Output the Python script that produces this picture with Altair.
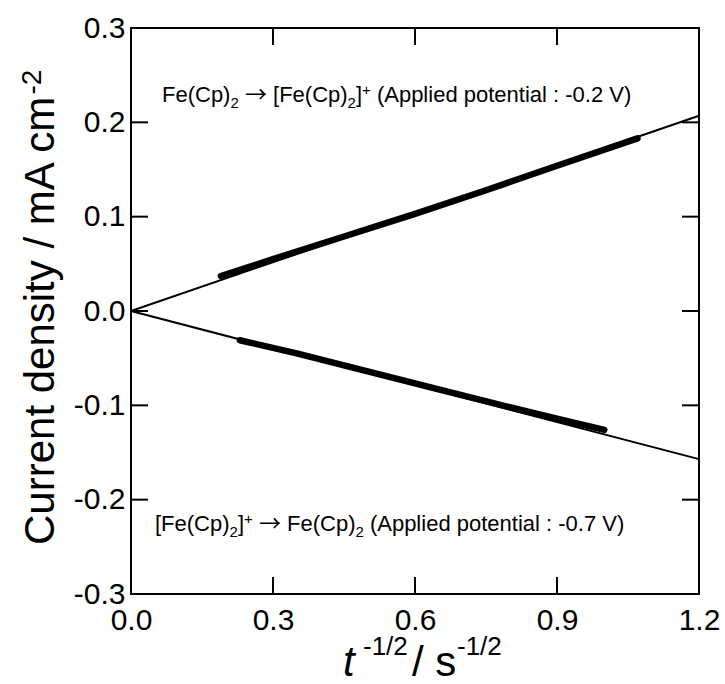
import altair as alt
import pandas as pd

# ---------------- data ----------------
x_ticks = [0.0, 0.3, 0.6, 0.9, 1.2]
y_ticks = [-0.3, -0.2, -0.1, 0.0, 0.1, 0.2, 0.3]

ox_x = [0.19, 0.30, 0.45, 0.60, 0.75, 0.90, 1.07]
ox_y = [0.037, 0.055, 0.079, 0.103, 0.128, 0.154, 0.183]
red_x = [0.23, 0.35, 0.50, 0.65, 0.80, 0.90, 1.00]
red_y = [-0.031, -0.045, -0.064, -0.083, -0.102, -0.114, -0.126]

fit_x = [0.0, 1.2]
fit_ox = [0.0, 0.207]
fit_red = [0.0, -0.157]

# ---------------- layout ----------------
W, H = 568, 566
FONT = "Liberation Sans"
xs = alt.Scale(domain=[0, 1.2], nice=False, zero=False)
ys = alt.Scale(domain=[-0.3, 0.3], nice=False, zero=False)
lab = "replace(format(datum.value, '.1f'), '\u2212', '-')"

fit_df = pd.DataFrame({
    "x": fit_x + fit_x,
    "y": fit_ox + fit_red,
    "s": ["ox"] * len(fit_x) + ["red"] * len(fit_x),
})
dat_df = pd.DataFrame({
    "x": ox_x + red_x,
    "y": ox_y + red_y,
    "s": ["ox"] * len(ox_x) + ["red"] * len(red_x),
})
xt_df = pd.DataFrame({"x": x_ticks})
yt_df = pd.DataFrame({"y": y_ticks})
one = pd.DataFrame({"a": [0]})

xaxis = alt.Axis(values=x_ticks, labelExpr=lab, ticks=False, domain=False, grid=False,
                 labelFontSize=30, labelFont=FONT, labelColor="black", labelPadding=11,
                 title=None, labelFlush=False, labelOverlap=False)
yaxis = alt.Axis(values=y_ticks, labelExpr=lab, ticks=False, domain=False, grid=False,
                 labelFontSize=30, labelFont=FONT, labelColor="black", labelPadding=6,
                 title=None, labelFlush=False, labelOverlap=False)

X = alt.X("x:Q", scale=xs, axis=xaxis)
Y = alt.Y("y:Q", scale=ys, axis=yaxis)

fit = alt.Chart(fit_df).mark_line(color="black", strokeWidth=2).encode(
    x=X, y=Y, detail="s:N")
data = alt.Chart(dat_df).mark_line(color="black", strokeWidth=6.5, strokeCap="round",
                                   strokeJoin="round").encode(x=X, y=Y, detail="s:N")

TL = 17
tick_b = alt.Chart(xt_df).mark_rule(color="black", strokeWidth=2).encode(
    x=X, y=alt.value(H), y2=alt.value(H - TL))
tick_t = alt.Chart(xt_df).mark_rule(color="black", strokeWidth=2).encode(
    x=X, y=alt.value(0), y2=alt.value(TL))
tick_l = alt.Chart(yt_df).mark_rule(color="black", strokeWidth=2).encode(
    y=Y, x=alt.value(0), x2=alt.value(TL))
tick_r = alt.Chart(yt_df).mark_rule(color="black", strokeWidth=2).encode(
    y=Y, x=alt.value(W), x2=alt.value(W - TL))

# ---------------- text helpers ----------------
CW = {" ": 278, "(": 333, ")": 333, "[": 278, "]": 278, "+": 584, "-": 333, ".": 278,
      "/": 278, ":": 278, "A": 667, "C": 722, "F": 611, "V": 667, "a": 556, "c": 500,
      "d": 556, "e": 556, "i": 222, "l": 222, "m": 833, "n": 556, "o": 556, "p": 556,
      "r": 333, "s": 500, "t": 278, "u": 556, "y": 500, "\u2192": 1000}
for d in "0123456789":
    CW[d] = 556


def tw(s, size):
    return sum(CW.get(c, 556) for c in s) / 1000.0 * size


def piece(text, x, y, size, angle=0, italic=False, font=FONT):
    return alt.Chart(one).mark_text(
        text=text, fontSize=size, font=font, align="left", baseline="alphabetic",
        angle=angle, fontStyle="italic" if italic else "normal", color="black",
    ).encode(x=alt.value(x), y=alt.value(y))


def compose(parts, x0, y0):
    layers = []
    x = x0
    for text, size, dy in parts:
        stripped = text.lstrip(" ")
        lead = tw(text[: len(text) - len(stripped)], size)
        if stripped == "\u2192":
            layers.append(piece(stripped, x + lead, y0 + dy, size, font="Noto Sans CJK JP"))
        else:
            layers.append(piece(stripped, x + lead, y0 + dy, size))
        x += tw(text, size)
    return layers


ann_up = compose([
    ("Fe(Cp)", 22, 0), ("2", 15, 6), (" \u2192", 22, 0), (" [Fe(Cp)", 22, 0), ("2", 15, 6),
    ("]", 22, 0), ("+", 15, -7), (" (Applied potential : -0.2 V)", 22, 0),
], 31, 74)
ann_low = compose([
    ("[Fe(Cp)", 22, 0), ("2", 15, 6), ("]", 22, 0), ("+", 15, -7),
    (" \u2192", 22, 0), (" Fe(Cp)", 22, 0), ("2", 15, 6),
    (" (Applied potential : -0.7 V)", 22, 0),
], 24, 503)

ytitle_main = "Current density / mA cm"
y0 = 517
ytitle = [
    piece(ytitle_main, -77, y0, 42, angle=270),
    piece("-2", -90, y0 - tw(ytitle_main, 42), 28, angle=270),
]
xtitle = [
    piece("t", 212, 648, 42, italic=True),
    piece("-1/2", 232, 627, 26),
    piece("/ s", 281, 648, 42),
    piece("-1/2", 326, 627, 26),
]

chart = alt.layer(
    fit, data, tick_b, tick_t, tick_l, tick_r, *ann_up, *ann_low, *ytitle, *xtitle
).properties(
    width=W, height=H,
    autosize=alt.AutoSizeParams(type="none"),
    padding={"left": 131, "top": 28, "right": 26, "bottom": 90},
).configure_view(stroke="black", strokeWidth=2)

chart.save("out.html", embed_options={"renderer": "svg", "actions": False})
